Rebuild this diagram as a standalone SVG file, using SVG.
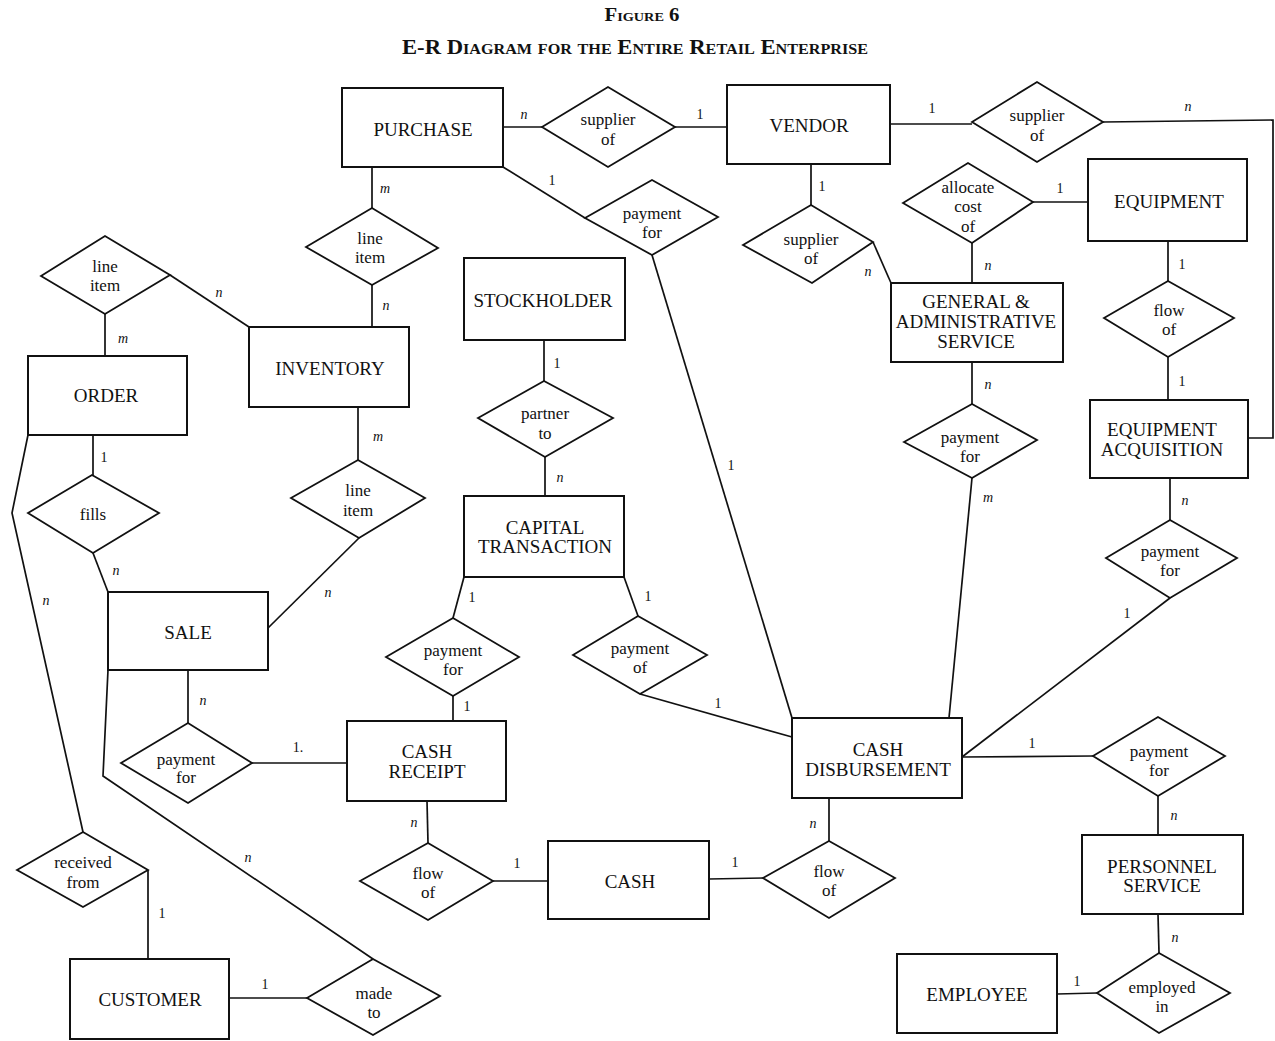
<svg xmlns="http://www.w3.org/2000/svg" width="1275" height="1041" viewBox="0 0 1275 1041">
<style>
.bg{fill:#fff}
.ent rect{fill:#fff;stroke:#111;stroke-width:2}
.rel polygon{fill:#fff;stroke:#111;stroke-width:1.8}
.et{font-family:"Liberation Serif",serif;font-size:19px;fill:#111;text-anchor:middle;dominant-baseline:central}
.rt{font-family:"Liberation Serif",serif;font-size:17px;fill:#111;text-anchor:middle;dominant-baseline:central}
.conn{fill:none;stroke:#111;stroke-width:1.7}
.card{font-family:"Liberation Serif",serif;font-size:14px;fill:#111;text-anchor:middle;dominant-baseline:central}
.it{font-style:italic}
.title{font-family:"Liberation Serif",serif;fill:#111;text-anchor:middle;font-variant:small-caps;font-weight:bold}
</style>
<rect class="bg" x="0" y="0" width="1275" height="1041"/>
<text class="title" x="642" y="21" font-size="19" textLength="75" lengthAdjust="spacingAndGlyphs">Figure 6</text>
<text class="title" x="635" y="54" font-size="21" textLength="466" lengthAdjust="spacingAndGlyphs">E-R Diagram for the Entire Retail Enterprise</text>

<g id="connectors">
<polyline class="conn" points="503,127 542,127"/>
<polyline class="conn" points="675,127 727,127"/>
<polyline class="conn" points="890,124 972,124"/>
<polyline class="conn" points="1103,122 1273,120 1273,438 1248,438"/>
<polyline class="conn" points="503,167 585,218"/>
<polyline class="conn" points="652,255 792,718"/>
<polyline class="conn" points="372,167 372,208"/>
<polyline class="conn" points="372,285 372,327"/>
<polyline class="conn" points="170,275 249,327"/>
<polyline class="conn" points="105,314 105,356"/>
<polyline class="conn" points="358,407 358,460"/>
<polyline class="conn" points="359,538 268,628"/>
<polyline class="conn" points="93,435 93,475"/>
<polyline class="conn" points="93,553 108,592"/>
<polyline class="conn" points="28,435 12,513 83,832"/>
<polyline class="conn" points="148,870 148,959"/>
<polyline class="conn" points="229,998 307,998"/>
<polyline class="conn" points="108,670 103,776 373,959"/>
<polyline class="conn" points="188,670 188,723"/>
<polyline class="conn" points="252,763 347,763"/>
<polyline class="conn" points="453,696 453,721"/>
<polyline class="conn" points="464,577 453,618"/>
<polyline class="conn" points="624,577 638,616"/>
<polyline class="conn" points="640,694 792,737"/>
<polyline class="conn" points="544,340 544,381"/>
<polyline class="conn" points="545,457 545,496"/>
<polyline class="conn" points="811,164 811,205"/>
<polyline class="conn" points="873,242 891,283"/>
<polyline class="conn" points="1033,202 1088,202"/>
<polyline class="conn" points="972,243 972,283"/>
<polyline class="conn" points="1168,241 1168,281"/>
<polyline class="conn" points="1168,357 1168,400"/>
<polyline class="conn" points="972,362 972,404"/>
<polyline class="conn" points="972,478 949,718"/>
<polyline class="conn" points="1170,478 1170,520"/>
<polyline class="conn" points="1170,598 962,757"/>
<polyline class="conn" points="962,757 1093,756"/>
<polyline class="conn" points="1158,796 1158,835"/>
<polyline class="conn" points="1158,914 1159,953"/>
<polyline class="conn" points="1057,994 1097,993"/>
<polyline class="conn" points="427,801 428,843"/>
<polyline class="conn" points="493,881 548,881"/>
<polyline class="conn" points="709,879 763,878"/>
<polyline class="conn" points="829,798 829,841"/>
</g>

<g id="cardinalities">
<text class="card it" x="524" y="114">n</text>
<text class="card" x="700" y="114">1</text>
<text class="card" x="932" y="108">1</text>
<text class="card it" x="1188" y="106">n</text>
<text class="card" x="552" y="180">1</text>
<text class="card" x="731" y="465">1</text>
<text class="card it" x="385" y="188">m</text>
<text class="card it" x="386" y="305">n</text>
<text class="card it" x="219" y="292">n</text>
<text class="card it" x="123" y="338">m</text>
<text class="card it" x="378" y="436">m</text>
<text class="card it" x="328" y="592">n</text>
<text class="card" x="104" y="457">1</text>
<text class="card it" x="116" y="570">n</text>
<text class="card it" x="46" y="600">n</text>
<text class="card" x="162" y="913">1</text>
<text class="card" x="265" y="984">1</text>
<text class="card it" x="248" y="857">n</text>
<text class="card it" x="203" y="700">n</text>
<text class="card" x="298" y="747">1.</text>
<text class="card" x="467" y="706">1</text>
<text class="card" x="472" y="597">1</text>
<text class="card" x="648" y="596">1</text>
<text class="card" x="718" y="703">1</text>
<text class="card" x="557" y="363">1</text>
<text class="card it" x="560" y="477">n</text>
<text class="card" x="822" y="186">1</text>
<text class="card it" x="868" y="271">n</text>
<text class="card" x="1060" y="188">1</text>
<text class="card it" x="988" y="265">n</text>
<text class="card" x="1182" y="264">1</text>
<text class="card" x="1182" y="381">1</text>
<text class="card it" x="988" y="384">n</text>
<text class="card it" x="988" y="497">m</text>
<text class="card it" x="1185" y="500">n</text>
<text class="card" x="1127" y="613">1</text>
<text class="card" x="1032" y="743">1</text>
<text class="card it" x="1174" y="815">n</text>
<text class="card it" x="1175" y="937">n</text>
<text class="card" x="1077" y="981">1</text>
<text class="card it" x="414" y="822">n</text>
<text class="card" x="517" y="863">1</text>
<text class="card" x="735" y="862">1</text>
<text class="card it" x="813" y="823">n</text>
</g>

<g id="purchase" class="ent"><rect x="342" y="88" width="161" height="79"/><text class="et" x="423" y="129">PURCHASE</text></g>
<g id="vendor" class="ent"><rect x="727" y="85" width="163" height="79"/><text class="et" x="809" y="125">VENDOR</text></g>
<g id="equipment" class="ent"><rect x="1088" y="159" width="159" height="82"/><text class="et" x="1169" y="201">EQUIPMENT</text></g>
<g id="gas" class="ent"><rect x="891" y="283" width="172" height="79"/><text class="et" x="976" y="301">GENERAL &amp;</text><text class="et" x="976" y="321">ADMINISTRATIVE</text><text class="et" x="976" y="341">SERVICE</text></g>
<g id="equipacq" class="ent"><rect x="1090" y="400" width="158" height="78"/><text class="et" x="1162" y="429">EQUIPMENT</text><text class="et" x="1162" y="449">ACQUISITION</text></g>
<g id="stockholder" class="ent"><rect x="464" y="258" width="161" height="82"/><text class="et" x="543" y="300">STOCKHOLDER</text></g>
<g id="inventory" class="ent"><rect x="249" y="327" width="160" height="80"/><text class="et" x="330" y="368">INVENTORY</text></g>
<g id="order" class="ent"><rect x="28" y="356" width="159" height="79"/><text class="et" x="106" y="395">ORDER</text></g>
<g id="sale" class="ent"><rect x="108" y="592" width="160" height="78"/><text class="et" x="188" y="632">SALE</text></g>
<g id="captrans" class="ent"><rect x="464" y="496" width="160" height="81"/><text class="et" x="545" y="527">CAPITAL</text><text class="et" x="545" y="546">TRANSACTION</text></g>
<g id="cashreceipt" class="ent"><rect x="347" y="721" width="159" height="80"/><text class="et" x="427" y="751">CASH</text><text class="et" x="427" y="771">RECEIPT</text></g>
<g id="cash" class="ent"><rect x="548" y="841" width="161" height="78"/><text class="et" x="630" y="881">CASH</text></g>
<g id="cashdisb" class="ent"><rect x="792" y="718" width="170" height="80"/><text class="et" x="878" y="749">CASH</text><text class="et" x="878" y="769">DISBURSEMENT</text></g>
<g id="personnel" class="ent"><rect x="1082" y="835" width="161" height="79"/><text class="et" x="1162" y="866">PERSONNEL</text><text class="et" x="1162" y="885">SERVICE</text></g>
<g id="employee" class="ent"><rect x="897" y="954" width="160" height="79"/><text class="et" x="977" y="994">EMPLOYEE</text></g>
<g id="customer" class="ent"><rect x="70" y="959" width="159" height="80"/><text class="et" x="150" y="999">CUSTOMER</text></g>

<g id="r-supplier-pv" class="rel"><polygon points="542,127 608,87 675,127 608,167"/><text class="rt" x="608" y="119">supplier</text><text class="rt" x="608" y="139">of</text></g>
<g id="r-supplier-ve" class="rel"><polygon points="972,122 1037,82 1103,122 1037,162"/><text class="rt" x="1037" y="115">supplier</text><text class="rt" x="1037" y="135">of</text></g>
<g id="r-payment-pc" class="rel"><polygon points="585,218 652,180 718,217 652,255"/><text class="rt" x="652" y="213">payment</text><text class="rt" x="652" y="232">for</text></g>
<g id="r-allocate" class="rel"><polygon points="903,203 968,163 1033,202 972,243"/><text class="rt" x="968" y="187">allocate</text><text class="rt" x="968" y="206">cost</text><text class="rt" x="968" y="226">of</text></g>
<g id="r-supplier-vg" class="rel"><polygon points="743,245 811,205 873,242 812,283"/><text class="rt" x="811" y="239">supplier</text><text class="rt" x="811" y="258">of</text></g>
<g id="r-lineitem-pi" class="rel"><polygon points="306,247 372,208 438,248 372,285"/><text class="rt" x="370" y="238">line</text><text class="rt" x="370" y="257">item</text></g>
<g id="r-lineitem-oi" class="rel"><polygon points="41,276 105,236 170,275 105,314"/><text class="rt" x="105" y="266">line</text><text class="rt" x="105" y="285">item</text></g>
<g id="r-flow-ee" class="rel"><polygon points="1104,318 1168,281 1234,318 1168,357"/><text class="rt" x="1169" y="310">flow</text><text class="rt" x="1169" y="329">of</text></g>
<g id="r-partner" class="rel"><polygon points="478,418 544,381 613,418 545,457"/><text class="rt" x="545" y="413">partner</text><text class="rt" x="545" y="433">to</text></g>
<g id="r-payment-gc" class="rel"><polygon points="904,442 972,404 1037,440 972,478"/><text class="rt" x="970" y="437">payment</text><text class="rt" x="970" y="456">for</text></g>
<g id="r-lineitem-is" class="rel"><polygon points="291,498 358,460 425,498 359,538"/><text class="rt" x="358" y="490">line</text><text class="rt" x="358" y="510">item</text></g>
<g id="r-fills" class="rel"><polygon points="28,513 92,475 159,513 93,553"/><text class="rt" x="93" y="514">fills</text></g>
<g id="r-payment-ec" class="rel"><polygon points="1106,558 1170,520 1237,558 1170,598"/><text class="rt" x="1170" y="551">payment</text><text class="rt" x="1170" y="570">for</text></g>
<g id="r-payment-cr" class="rel"><polygon points="386,657 453,618 519,657 453,696"/><text class="rt" x="453" y="650">payment</text><text class="rt" x="453" y="669">for</text></g>
<g id="r-payment-of" class="rel"><polygon points="573,655 638,616 707,655 640,694"/><text class="rt" x="640" y="648">payment</text><text class="rt" x="640" y="667">of</text></g>
<g id="r-payment-sc" class="rel"><polygon points="121,763 188,723 252,763 188,803"/><text class="rt" x="186" y="759">payment</text><text class="rt" x="186" y="777">for</text></g>
<g id="r-payment-cp" class="rel"><polygon points="1093,756 1158,717 1225,756 1158,796"/><text class="rt" x="1159" y="751">payment</text><text class="rt" x="1159" y="770">for</text></g>
<g id="r-received" class="rel"><polygon points="17,870 83,832 148,870 83,907"/><text class="rt" x="83" y="862">received</text><text class="rt" x="83" y="882">from</text></g>
<g id="r-flow-rc" class="rel"><polygon points="360,881 428,843 493,881 428,920"/><text class="rt" x="428" y="873">flow</text><text class="rt" x="428" y="892">of</text></g>
<g id="r-flow-cd" class="rel"><polygon points="763,878 829,841 895,878 829,918"/><text class="rt" x="829" y="871">flow</text><text class="rt" x="829" y="890">of</text></g>
<g id="r-madeto" class="rel"><polygon points="307,998 373,959 440,996 373,1035"/><text class="rt" x="374" y="993">made</text><text class="rt" x="374" y="1012">to</text></g>
<g id="r-employed" class="rel"><polygon points="1097,993 1159,953 1230,993 1159,1033"/><text class="rt" x="1162" y="987">employed</text><text class="rt" x="1162" y="1006">in</text></g>
</svg>
